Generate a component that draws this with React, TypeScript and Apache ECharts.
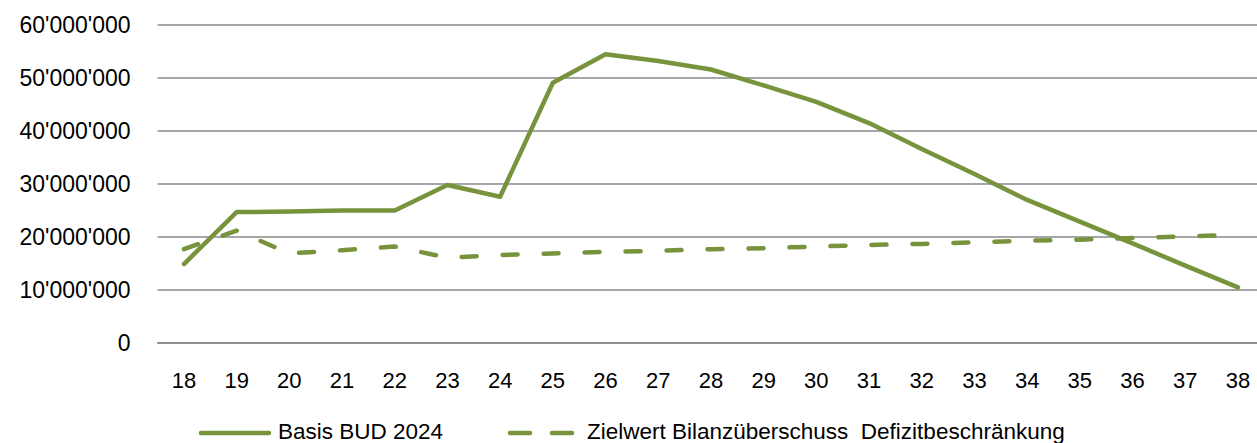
import React, { useEffect, useRef } from "react";
import * as echarts from "echarts";

const years = ["18","19","20","21","22","23","24","25","26","27","28","29","30","31","32","33","34","35","36","37","38"];
const basisBUD2024 = [14900000, 24700000, 24800000, 25000000, 25000000, 29800000, 27600000, 49100000, 54500000, 53200000, 51600000, 48600000, 45500000, 41500000, 36600000, 31900000, 27000000, 22900000, 18800000, 14600000, 10500000];
const zielwert = [17700000, 21200000, 16900000, 17500000, 18200000, 16100000, 16600000, 16900000, 17200000, 17400000, 17700000, 17900000, 18200000, 18500000, 18700000, 19000000, 19300000, 19500000, 19800000, 20100000, 20400000];
const seriesNames = ["Basis BUD 2024", "Zielwert Bilanzüberschuss  Defizitbeschränkung"];

const GREEN = "#77933C";
const GRID = "#898989";
const FONT = "'Liberation Sans', Arial, sans-serif";

function fmt(v: number): string {
  const s = String(Math.round(v));
  return s.replace(/\B(?=(\d{3})+(?!\d))/g, "'");
}

export default function App() {
  const ref = useRef<HTMLDivElement>(null);
  useEffect(() => {
    if (!ref.current) return;
    const chart = echarts.init(ref.current, null, { renderer: "svg" });
    const legendY = 433;
    chart.setOption({
      animation: false,
      backgroundColor: "#ffffff",
      grid: { left: 157.6, right: 15.7, top: 25, bottom: 100, containLabel: false },
      xAxis: {
        type: "category",
        data: years,
        boundaryGap: true,
        axisLine: { lineStyle: { color: GRID, width: 1.5 } },
        axisTick: { show: false },
        axisLabel: { color: "#000", fontSize: 22, fontFamily: FONT, margin: 26 },
      },
      yAxis: {
        type: "value",
        min: 0,
        max: 60000000,
        interval: 10000000,
        axisLine: { show: false },
        axisTick: { show: false },
        splitLine: { lineStyle: { color: GRID, width: 1.5 } },
        axisLabel: { color: "#000", fontSize: 23, fontFamily: FONT, margin: 27, formatter: (v: number) => fmt(v) },
      },
      graphic: [
        {
          type: "line",
          shape: { x1: 201, y1: legendY, x2: 269, y2: legendY },
          style: { stroke: GREEN, lineWidth: 4.5, lineCap: "round" },
        },
        {
          type: "text",
          x: 278,
          y: 431,
          style: { text: seriesNames[0], fill: "#000", fontSize: 22.5, fontFamily: FONT, verticalAlign: "middle", align: "left" },
        },
        {
          type: "line",
          shape: { x1: 510, y1: legendY, x2: 572, y2: legendY },
          style: { stroke: GREEN, lineWidth: 4.5, lineCap: "round", lineDash: [20, 22] },
        },
        {
          type: "text",
          x: 587,
          y: 431,
          style: { text: seriesNames[1], fill: "#000", fontSize: 22.5, fontFamily: FONT, verticalAlign: "middle", align: "left" },
        },
      ],
      series: [
        {
          name: seriesNames[1],
          type: "line",
          data: zielwert,
          symbol: "none",
          lineStyle: { color: GREEN, width: 4.5, type: [15, 26], cap: "round", join: "round" },
          itemStyle: { color: GREEN },
        },
        {
          name: seriesNames[0],
          type: "line",
          data: basisBUD2024,
          symbol: "none",
          lineStyle: { color: GREEN, width: 4.5, cap: "round", join: "round" },
          itemStyle: { color: GREEN },
        },
      ],
    });
    return () => chart.dispose();
  }, []);
  return (
    <div style={{ position: "fixed", left: 0, top: 0, width: 1257, height: 443, overflow: "hidden", background: "#fff" }}>
      <div ref={ref} style={{ width: 1280, height: 443 }} />
    </div>
  );
}
